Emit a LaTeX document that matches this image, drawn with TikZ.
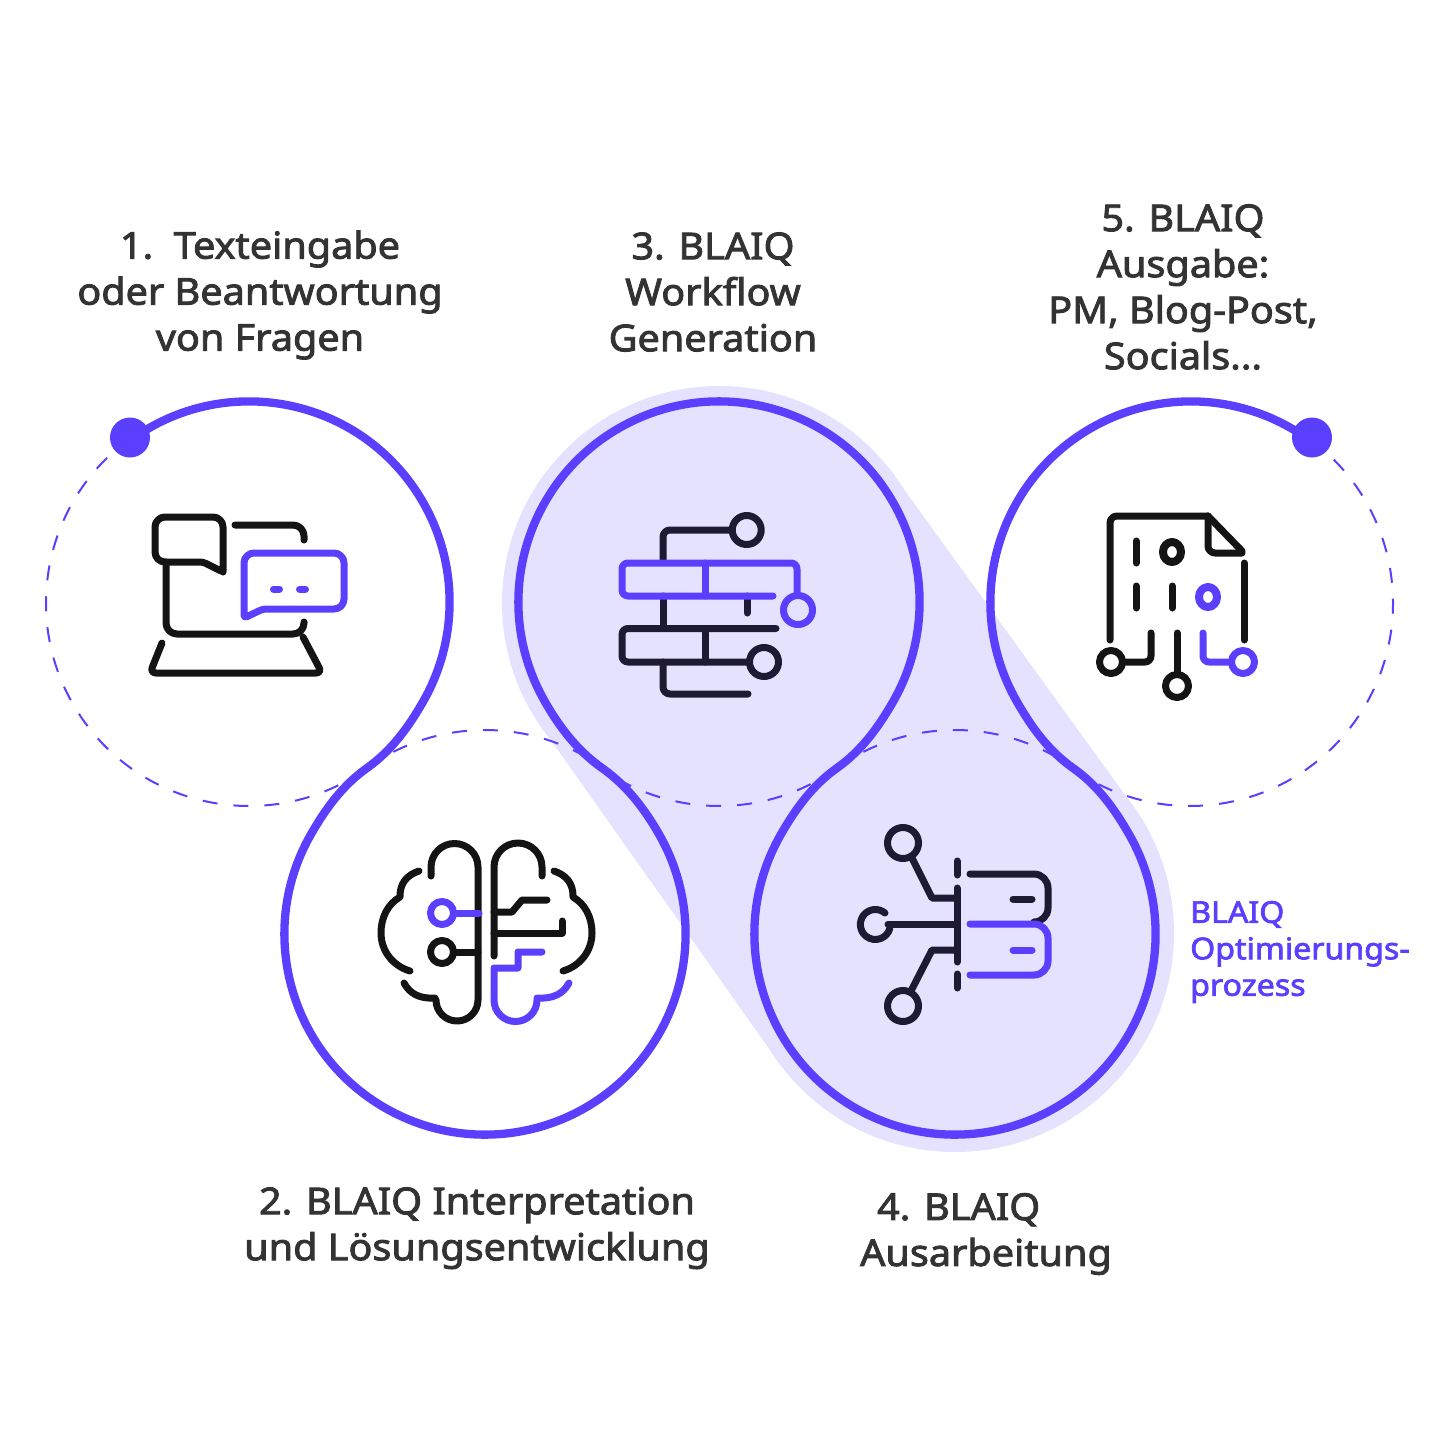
\documentclass[tikz,border=0pt]{standalone}
\usepackage{fontspec}
\setmainfont{Noto Sans}
\newfontfamily\lblfont[FakeBold=2.4,FakeStretch=1.07]{Noto Sans}
\usetikzlibrary{calc}
\definecolor{pur}{HTML}{5B3FFF}
\definecolor{lav}{HTML}{E5E2FF}
\definecolor{ink}{HTML}{141414}
\definecolor{navy}{HTML}{1E1A33}
\definecolor{txt}{HTML}{333333}
\tikzset{
  ring/.style={draw=pur,line width=8.3pt,line join=round},
  dashring/.style={draw=pur,line width=2pt,dash pattern=on 15pt off 16pt},
  ic/.style={line width=7pt,line cap=round,line join=round},
  lbl/.style={font=\lblfont\fontsize{37}{46}\selectfont,text=txt,align=center,inner sep=0pt},
  plbl/.style={font=\lblfont\fontsize{30}{36.5}\selectfont,text=pur,align=left,inner sep=0pt},
}
\begin{document}
\begin{tikzpicture}[x=1pt,y=1pt,yscale=-1]
\useasboundingbox (0,0) rectangle (1440,1440);
\coordinate (c1) at (249,602);
\coordinate (c2) at (485,934);
\coordinate (c3) at (719,602);
\coordinate (c4) at (955,934);
\coordinate (c5) at (1191,602);
\coordinate (d1) at (249,603);
\coordinate (d2) at (485,933);
\coordinate (d3) at (719,603);
\coordinate (d4) at (955,933);
\coordinate (d5) at (1190,603);
\coordinate (m12) at (367,768);
\coordinate (m23) at (602,768);
\coordinate (m34) at (837,768);
\coordinate (m45) at (1073,768);
% highlight band
\fill[lav] (d3) circle[radius=217pt];
\fill[lav] (d4) circle[radius=219pt];
\fill[lav] (895,477) -- (1133,806) -- (777,1060) -- (543,729) -- cycle;
% dashed arcs
\draw[dashring] (d1) ++(234.4:203pt) arc[start angle=234.4,end angle=54.4,radius=203pt];
\draw[dashring] (d2) ++(234.4:203pt) arc[start angle=234.4,end angle=305.3,radius=203pt];
\draw[dashring] (d3) ++(54.4:203pt) arc[start angle=54.4,end angle=125.3,radius=203pt];
\draw[dashring] (d4) ++(234.4:203pt) arc[start angle=234.4,end angle=305.5,radius=203pt];
\draw[dashring] (d5) ++(-53.7:203pt) arc[start angle=-53.7,end angle=125.5,radius=203pt];
% continuous solid ribbon through the five circles
\draw[ring] ($(c1)+(-125.6:200.6pt)$) arc[start angle=-125.6,end angle=29.6,radius=200.6pt]
  .. controls (408.5,727.2) and (391.5,750.6) .. (m12)
  .. controls (342.5,785.4) and (325.5,808.8) .. ($(c2)+(209.6:200.6pt)$)
  arc[start angle=209.6,end angle=-29.8,radius=200.6pt]
  .. controls (644.2,808.3) and (626.5,785.3) .. (m23)
  .. controls (577.5,750.7) and (559.8,727.7) .. ($(c3)+(150.2:200.6pt)$)
  arc[start angle=150.2,end angle=389.6,radius=200.6pt]
  .. controls (878.5,727.2) and (861.5,750.6) .. (m34)
  .. controls (812.5,785.4) and (795.5,808.8) .. ($(c4)+(209.6:200.6pt)$)
  arc[start angle=209.6,end angle=-29.8,radius=200.6pt]
  .. controls (1114.2,808.3) and (1097.5,785.3) .. (m45)
  .. controls (1048.5,750.7) and (1031.8,727.7) .. ($(c5)+(150.2:200.6pt)$)
  arc[start angle=150.2,end angle=306.3,radius=200.6pt];
\fill[pur] (130,437.5) circle[radius=20pt];
\fill[pur] (1312,437.5) circle[radius=20pt];
% icon 1
\begin{scope}[ic,draw=ink]
\draw[rounded corners=10pt] (203,562) -- (155,562) -- (155,517) -- (223,517) -- (223,562) [rounded corners=3pt] -- (223,572) -- cycle;
\draw[rounded corners=11pt] (166,562) -- (166,634) -- (304,634) -- (304,622);
\draw[rounded corners=11pt] (235,525) -- (304,525) -- (304,540);
\draw[rounded corners=6pt] (162,643) -- (150,673) -- (322,673) -- (303,637);
\draw[pur,rounded corners=10pt] (263,609) -- (344,609) -- (344,553) -- (244,553) -- (244,600) [rounded corners=3pt] -- (244,618) -- cycle;
\draw[pur] (273.5,589) -- (279.5,589);
\draw[pur] (299.5,589) -- (305.5,589);
\end{scope}
% icon 3
\begin{scope}[ic,draw=navy]
\draw (746.7,530) circle[radius=14.5pt];
\draw[rounded corners=7pt] (732,530) -- (663,530) -- (663,561);
\draw (663,596) -- (663,628);
\draw (747,596) -- (747,613);
\draw[rounded corners=6pt] (776,628.5) -- (622,628.5) -- (622,662) -- (749,662);
\draw (705,628.5) -- (705,662);
\draw (764,662) circle[radius=14.5pt];
\draw[rounded corners=7pt] (663,662) -- (663,694) -- (748,694);
\draw[pur,rounded corners=6pt] (773,596) -- (622,596) -- (622,563) -- (797,563) -- (797,594);
\draw[pur] (705,563) -- (705,596);
\draw[pur] (798,610) circle[radius=14.5pt];
\end{scope}
% icon 5
\begin{scope}[ic,draw=ink]
\draw[rounded corners=7pt] (1110,640) -- (1110,516) -- (1208,516);
\draw (1208,516) -- (1242,551);
\draw[rounded corners=7pt] (1208,516) -- (1208,553) -- (1242,553);
\draw (1244,563) -- (1244,640);
\draw (1136,541) -- (1136,563);
\draw (1136,586) -- (1136,608);
\draw (1172,586) -- (1172,608);
\draw[line width=8pt] (1172,552) ellipse[x radius=9pt,y radius=10pt];
\draw[pur,line width=8pt] (1208,597) ellipse[x radius=9pt,y radius=10pt];
\draw[rounded corners=6pt] (1151,633) -- (1151,662) -- (1123,662);
\draw (1111,662) circle[radius=11.5pt];
\draw (1177,633) -- (1177,674);
\draw (1177,686) circle[radius=11.5pt];
\draw[pur,rounded corners=6pt] (1203,633) -- (1203,662) -- (1231,662);
\draw[pur] (1243,662) circle[radius=11.5pt];
\end{scope}
% icon 2
\begin{scope}[ic,draw=ink]
\draw (431,876) -- (431,867) arc[start angle=180,end angle=360,radius=23.5pt] -- (478,1000) arc[start angle=0,end angle=180,radius=21pt];
\draw (404,983) .. controls (410,994) and (420,999) .. (435,998);
\draw (419,871) .. controls (407,875) and (400,883) .. (400,896);
\draw (400,897) .. controls (388,904) and (381,917) .. (381,933) .. controls (381,951) and (393,966) .. (410,971);
\draw (494,956) -- (494,867) arc[start angle=180,end angle=360,radius=24pt] -- (542,876);
\draw (554,871) .. controls (566,875) and (573,883) .. (573,896);
\draw (573,897) .. controls (585,904) and (592,917) .. (592,933) .. controls (592,951) and (580,966) .. (563,971);
\draw (494,912) -- (512,912) -- (522,900) -- (547,900);
\draw (494,933) -- (562,933) -- (562,921);
\draw (442,952) circle[radius=11.5pt];
\draw (454,952) -- (478,952);
\draw[pur] (442,913) circle[radius=11.5pt];
\draw[pur] (454,913) -- (479,913);
\draw[pur] (542,952) -- (518,952) -- (518,968) -- (494,968) -- (494,1000) arc[start angle=180,end angle=0,radius=21.5pt];
\draw[pur] (537,998) .. controls (553,999) and (563,994) .. (569,983);
\end{scope}
% icon 4
\begin{scope}[ic,draw=navy]
\draw (903,843) circle[radius=15.5pt];
\draw (903,1006) circle[radius=15.5pt];
\draw (885,913) arc[start angle=-50,end angle=-345,radius=15pt];
\draw (912,858) -- (932,898) -- (957,898);
\draw (912,989) -- (932,950) -- (957,950);
\draw (888,924) -- (957,924);
\draw (957,861) -- (957,875);
\draw (957,888) -- (957,962);
\draw (957,974) -- (957,988);
\draw[rounded corners=14pt] (970,874) -- (1048,874) -- (1048,922) -- (1035,922);
\draw (1013,899) -- (1032,899);
\draw[pur,rounded corners=14pt] (970,924) -- (1048,924) -- (1048,975) -- (970,975);
\draw[pur] (1013,950) -- (1032,950);
\end{scope}
% labels
\node[lbl] (t1) at (260,295) {1.\ \ Texteingabe\\oder Beantwortung\\von Fragen};
\node[lbl] (t3) at (713,292) {3. BLAIQ\\Workflow\\Generation};
\node[lbl] (t5) at (1183,287) {5. BLAIQ\\Ausgabe:\\PM, Blog-Post,\\Socials...};
\node[lbl] (t2) at (477,1228) {2. BLAIQ Interpretation\\und Lösungsentwicklung};
\node[lbl,align=left] (t4) at (986,1234) {\hspace*{17pt}4. BLAIQ\\Ausarbeitung};
\node[plbl,anchor=west] (t6) at (1190,952) {BLAIQ\\Optimierungs-\\prozess};
\end{tikzpicture}
\end{document}
